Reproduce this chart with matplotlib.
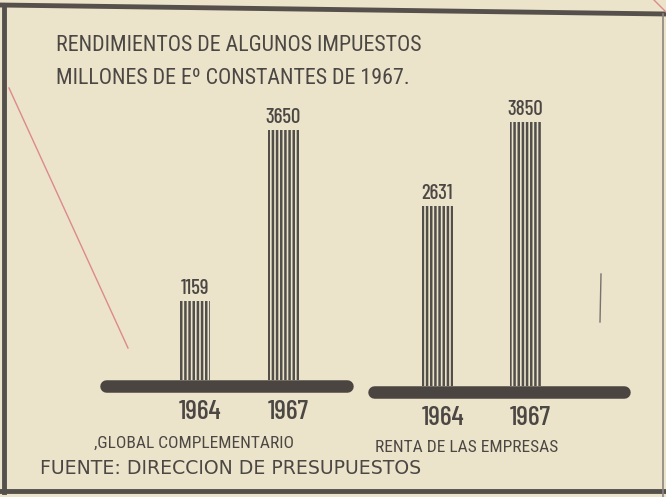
import matplotlib.pyplot as plt
import matplotlib.lines as mlines

# data (millones de E° de 1967)
years = ["1964", "1967"]
global_compl = [1159, 3650]
renta_empresas = [2631, 3850]
global_labels = ["1159", "3650"]
renta_labels = ["2631", "3850"]

paper = "#ece3cb"
ink = "#4b4743"

plt.rcParams["font.family"] = ["Roboto Condensed", "Barlow Condensed", "DejaVu Sans"]
plt.rcParams["font.weight"] = "normal"
plt.rcParams["hatch.linewidth"] = 1.8
nums = ["Barlow Condensed", "Roboto Condensed", "DejaVu Sans"]

W, H = 666, 497
fig = plt.figure(figsize=(W / 100, H / 100), dpi=100, facecolor=paper)


def fx(x):
    return x / W


def fy(y):
    return 1 - y / H


px_per_unit = 0.0685
ax_h = 300


def group(ax, vals, labels, xlim):
    ax.set_facecolor("none")
    bars = ax.bar(range(len(vals)), vals, width=0.345, color=paper,
                  edgecolor="#524e4a", hatch="||||", linewidth=0)
    ax.bar_label(bars, labels=labels, padding=2, fontsize=15, color=ink,
                 family=nums, weight=500)
    ax.set_xlim(*xlim)
    ax.set_ylim(0, ax_h / px_per_unit)
    for s in ["top", "left", "right"]:
        ax.spines[s].set_visible(False)
    sp = ax.spines["bottom"]
    sp.set_position(("outward", 4.5))
    sp.set_linewidth(9)
    sp.set_color("#4a4540")
    sp.set_capstyle("round")
    ax.set_yticks([])
    ax.set_xticks([i + 0.06 for i in range(len(years))], years)
    for t in ax.get_xticklabels():
        t.set_family(nums)
        t.set_weight(500)
        t.set_fontsize(20)
        t.set_color(ink)
    ax.tick_params(axis="x", length=0, pad=10)


ax1 = fig.add_axes([fx(106), fy(380), fx(241), ax_h / H])
group(ax1, global_compl, global_labels, (-1.01, 1.72))

ax2 = fig.add_axes([fx(374), fy(386), fx(250), ax_h / H])
group(ax2, renta_empresas, renta_labels, (-0.72, 2.12))

# titles and captions
fig.text(fx(56), fy(46), "RENDIMIENTOS DE ALGUNOS IMPUESTOS", fontsize=15.8,
         color=ink, va="center", ha="left")
fig.text(fx(56), fy(78), "MILLONES DE E\u00ba CONSTANTES DE 1967.", fontsize=15.8,
         color=ink, va="center", ha="left")
fig.text(fx(94), fy(443), ",GLOBAL COMPLEMENTARIO", fontsize=12.5,
         color=ink, va="center", ha="left")
fig.text(fx(375), fy(448), "RENTA DE LAS EMPRESAS", fontsize=12.5,
         color=ink, va="center", ha="left")
fig.text(fx(40), fy(468), "FUENTE: DIRECCION DE PRESUPUESTOS", fontsize=13.6,
         color=ink, va="center", ha="left", family="DejaVu Sans")

# clipping frame
frame = "#55504b"
fig.add_artist(mlines.Line2D([fx(0), fx(666)], [fy(5), fy(14)], lw=3.5, color=frame))
fig.add_artist(mlines.Line2D([fx(4), fx(4)], [fy(5), fy(492)], lw=3.5, color=frame))
fig.add_artist(mlines.Line2D([fx(0), fx(666)], [fy(491), fy(491)], lw=3.5, color=frame))
fig.add_artist(mlines.Line2D([fx(663), fx(663)], [fy(14), fy(497)], lw=1.2, color="#8a857e"))

# pen marks on the scan
fig.add_artist(mlines.Line2D([fx(9), fx(128)], [fy(88), fy(348)], lw=1.0, color="#dc8a8c"))
fig.add_artist(mlines.Line2D([fx(654), fx(666)], [fy(0), fy(12)], lw=1.0, color="#dc8a8c"))
fig.add_artist(mlines.Line2D([fx(601), fx(600)], [fy(274), fy(322)], lw=1.0, color="#77726c"))

fig.savefig("out.png", dpi=100, facecolor=paper)
